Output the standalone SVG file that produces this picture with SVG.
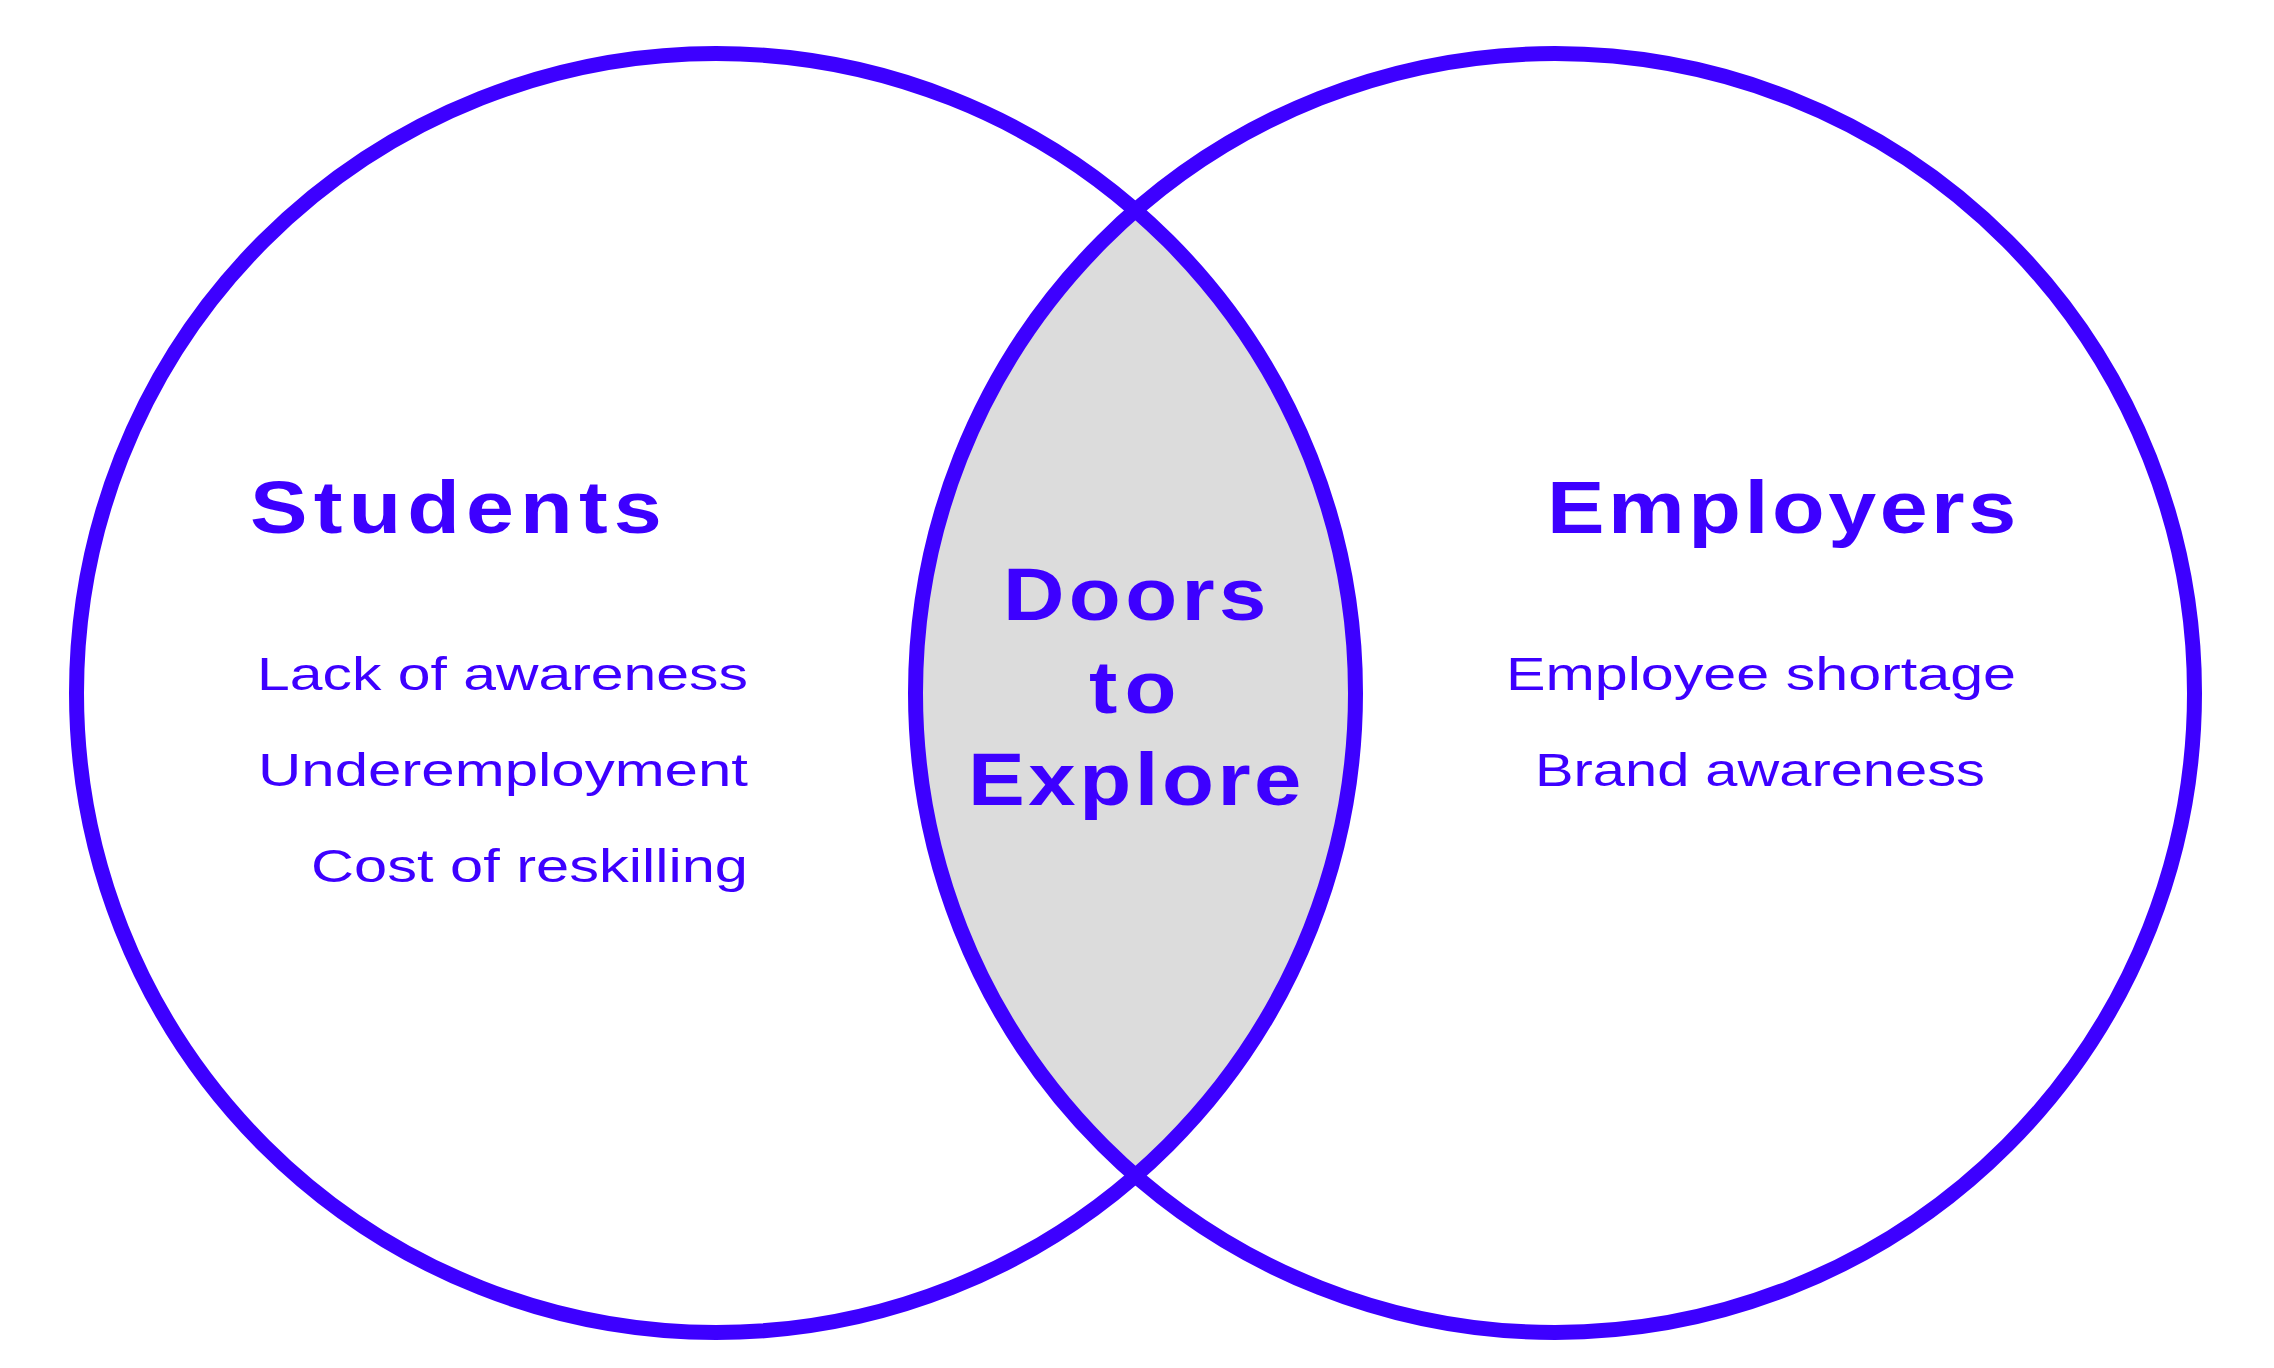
<svg xmlns="http://www.w3.org/2000/svg" width="2274" height="1368" viewBox="0 0 2274 1368">
<style>
.ring{fill:none;stroke:#3D00FF;stroke-width:15}
.lens{fill:#DCDCDC;stroke:none}
.h{font-family:"Liberation Sans",Arial,sans-serif;font-weight:700;fill:#3D00FF}
.t{font-family:"Liberation Sans",Arial,sans-serif;font-weight:400;fill:#3D00FF;font-size:47px}
</style>
<rect width="2274" height="1368" fill="#FFFFFF"/>
<g id="overlap-fill">
<path class="lens" d="M1135.5 210.5 A639.5 639.5 0 0 1 1135.5 1175.5 A639.5 639.5 0 0 1 1135.5 210.5 Z"/>
</g>
<g id="students">
<circle class="ring" cx="716" cy="693" r="639.5"/>
<text class="h" transform="scale(1.15,1)" x="217.4" y="533" font-size="75" textLength="358" lengthAdjust="spacing">Students</text>
<text class="t" x="257" y="690" textLength="491" lengthAdjust="spacingAndGlyphs">Lack of awareness</text>
<text class="t" x="258" y="786" textLength="490" lengthAdjust="spacingAndGlyphs">Underemployment</text>
<text class="t" x="311" y="882" textLength="437" lengthAdjust="spacingAndGlyphs">Cost of reskilling</text>
</g>
<g id="employers">
<circle class="ring" cx="1555" cy="693" r="639.5"/>
<text class="h" transform="scale(1.15,1)" x="1345.2" y="533" font-size="75" textLength="408" lengthAdjust="spacing">Employers</text>
<text class="t" x="1506" y="690" textLength="510" lengthAdjust="spacingAndGlyphs">Employee shortage</text>
<text class="t" x="1535" y="786" textLength="450" lengthAdjust="spacingAndGlyphs">Brand awareness</text>
</g>
<g id="doors-to-explore">
<text class="h" transform="scale(1.15,1)" x="872.2" y="620" font-size="74" textLength="229" lengthAdjust="spacing">Doors</text>
<text class="h" transform="scale(1.15,1)" x="947" y="713" font-size="74" textLength="76" lengthAdjust="spacing">to</text>
<text class="h" transform="scale(1.15,1)" x="841.7" y="805" font-size="74" textLength="290" lengthAdjust="spacing">Explore</text>
</g>
<g id="connectors"></g>
</svg>
